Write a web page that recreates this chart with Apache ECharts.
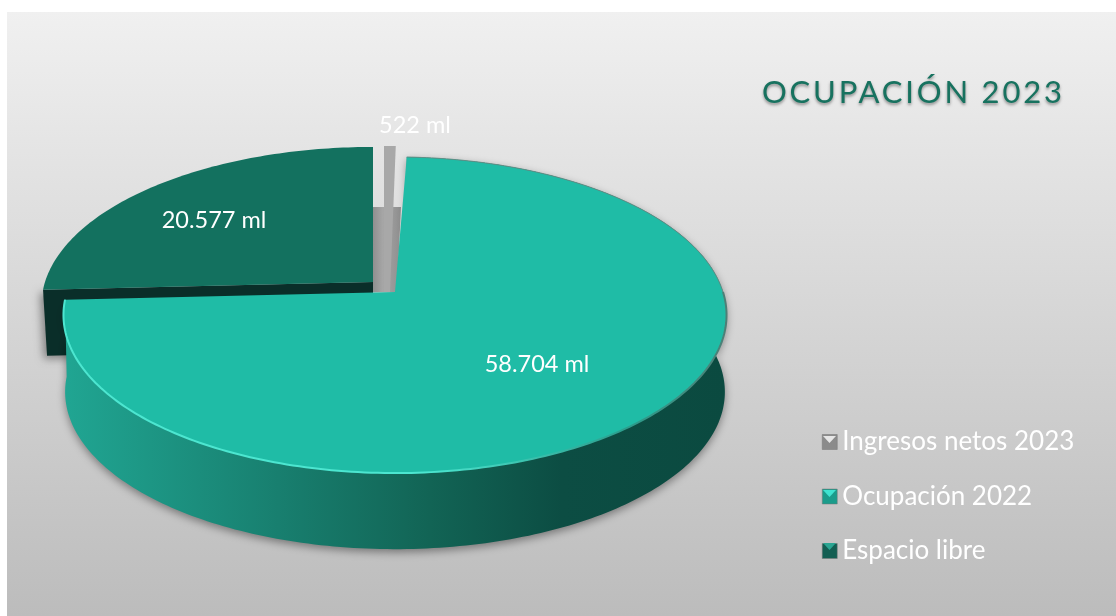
<!DOCTYPE html>
<html><head><meta charset="utf-8">
<style>html,body{margin:0;padding:0;background:#fff}#c{width:1116px;height:616px}</style>
<script src="https://cdn.jsdelivr.net/npm/echarts@6/dist/echarts.min.js"></script>
</head><body><div id="c"></div>
<script>
const categories = ['Ingresos netos 2023', 'Ocupación 2022', 'Espacio libre'];
const values = [522, 58704, 20577];
const unit = 'ml';
const titleText = 'OCUPACIÓN 2023';

// canvas letter spacing for the title only
const nativeFill = CanvasRenderingContext2D.prototype.fillText;
CanvasRenderingContext2D.prototype.fillText = function (t, x, y, m) {
  const on = t === titleText;
  if (on) this.letterSpacing = '2.8px';
  const r = m === undefined ? nativeFill.call(this, t, x, y) : nativeFill.call(this, t, x, y, m);
  if (on) this.letterSpacing = '0px';
  return r;
};

const total = values.reduce((a, b) => a + b, 0);
const K = 0.1456, RX = 328, RY = 154.7;
const slices = [
  {cx: 384, cy: 281, depth: 11, label: [31, -156], top: '#a8a8a8'},
  {cx: 395, cy: 292, depth: 77, label: [142, 72], top: '#1fbca6'},
  {cx: 373, cy: 282, depth: 66, label: [-159, -62], top: '#13715f'}
];
const legendIcons = [
  {base: '#8b8b8b', hi: '#e6e6e6'},
  {base: '#1b9c8b', hi: '#3fe3d0'},
  {base: '#125e52', hi: '#2aa592'}
];
const sideGradient = {type: 'linear', x: 67, y: 0, x2: 727, y2: 0, global: true, colorStops: [
  {offset: 0, color: '#20a592'}, {offset: 0.32, color: '#187f6f'},
  {offset: 0.55, color: '#126455'}, {offset: 0.75, color: '#0c4d43'}, {offset: 1, color: '#0b4a40'}
]};
const rimGradient = {type: 'linear', x: 63, y: 0, x2: 727, y2: 0, global: true, colorStops: [
  {offset: 0, color: '#4ce6d0'}, {offset: 0.55, color: '#4ce6d0'},
  {offset: 0.85, color: '#2b9d8c'}, {offset: 1, color: '#4d7f76'}
]};

function pt(s, deg, f, dy, sc) {
  const a = deg * Math.PI / 180, u = Math.sin(a) * f, v = -Math.cos(a) * f, d = 1 - K * v;
  return [s.cx + (sc || 1) * RX * u / d, s.cy + (dy || 0) + (sc || 1) * RY * v / d];
}
function arc(s, a0, a1, dy, sc) {
  const out = [], n = Math.max(2, Math.ceil(Math.abs(a1 - a0)));
  for (let i = 0; i <= n; i++) out.push(pt(s, a0 + (a1 - a0) * i / n, 1, dy, sc));
  return out;
}
function startAngle(i) {
  let acc = 0;
  for (let j = 0; j < i; j++) acc += values[j];
  return acc / total * 360;
}
function fmt(v) { return String(v).replace(/\B(?=(\d{3})+$)/g, '.') + ' ' + unit; }

function renderSlice(i) {
  return function (params, api) {
    const v = api.value(0), s = slices[i];
    const a0 = startAngle(i), a1 = a0 + v / total * 360;
    const ch = [];
    const apex = [s.cx, s.cy];
    const faceShape = [apex].concat(arc(s, a0, a1));
    if (i === 2) {
      const e = pt(s, a0, 1);
      ch.push({type: 'polygon', shape: {points: [e, apex, [s.cx, s.cy + s.depth], [e[0] + 4, e[1] + s.depth]]},
        style: {fill: '#0a2e29', shadowBlur: 8, shadowColor: 'rgba(0,0,0,.4)', shadowOffsetX: -3, shadowOffsetY: 3}});
    }
    if (i === 1) {
      const side = arc(s, a0, a1).concat(arc(s, a1, a0, s.depth, 0.995));
      ch.push({type: 'polygon', shape: {points: side},
        style: {fill: sideGradient, shadowBlur: 9, shadowColor: 'rgba(0,0,0,.4)', shadowOffsetY: 3}});
    }
    if (i === 0) {
      const a = pt(s, a0, 1), b = pt(s, a1, 1);
      ch.push({type: 'polygon', shape: {points: [[s.cx - 11, s.cy - 74], [s.cx + 17, s.cy - 74], [s.cx + 13, s.cy + 11], [s.cx - 11, s.cy + 11]]},
        style: {fill: {type: 'linear', x: 0, y: 0, x2: 1, y2: 0, colorStops: [{offset: 0, color: '#8f8f8f'}, {offset: 0.35, color: '#a6a6a6'}, {offset: 1, color: '#8e8e8e'}]}}});
      ch.push({type: 'polygon', shape: {points: [a, b, [s.cx + 6, s.cy + 11], [s.cx, s.cy + 11]]}, style: {fill: s.top}});
    } else {
      ch.push({type: 'polygon', shape: {points: faceShape}, style: {fill: s.top}});
    }
    if (i === 1) {
      ch.push({type: 'polyline', shape: {points: arc(s, a0, 90)}, style: {fill: 'none', stroke: '#5f8f86', lineWidth: 1}});
      ch.push({type: 'polyline', shape: {points: arc(s, 90, a1)}, style: {fill: 'none', stroke: rimGradient, lineWidth: 2}});
    }
    ch.push({type: 'text', z2: 10, style: {x: s.cx + s.label[0], y: s.cy + s.label[1], text: fmt(v), fill: '#fff',
      font: '23.5px Lato', align: 'center', verticalAlign: 'middle'}});
    return {type: 'group', children: ch};
  };
}

const drawOrder = [2, 0, 1];
const series = drawOrder.map((i, k) => ({
  type: 'custom', name: categories[i], coordinateSystem: 'none', z: 2 + k, silent: true, animation: false,
  renderItem: renderSlice(i), data: [[values[i]]], itemStyle: {color: legendIcons[i].base}
}));

const rows = [442, 496, 549];
const bevels = rows.map((y, i) => ({type: 'polygon', z: 100,
  shape: {points: [[823, y - 6], [836, y - 6], [829.5, y + 1]]}, style: {fill: legendIcons[i].hi}}));

const chart = echarts.init(document.getElementById('c'), null, {renderer: 'canvas'});
chart.setOption({
  backgroundColor: '#ffffff', animation: false,
  title: {text: titleText, left: 762, top: 77, padding: 0, textStyle: {color: '#17725f', fontFamily: 'Lato', fontWeight: 'normal', fontSize: 31,
    textShadowBlur: 3, textShadowColor: 'rgba(0,0,0,.4)', textShadowOffsetY: 2}},
  legend: {orient: 'vertical', left: 822, top: 429, itemWidth: 15, itemHeight: 15, itemGap: 28.5, padding: 0, icon: 'rect',
    data: categories.map((n, i) => ({name: n, itemStyle: {color: legendIcons[i].base, borderColor: '#777', borderWidth: 0.5}})),
    textStyle: {color: '#fff', fontFamily: 'Lato', fontSize: 26}, selectedMode: false},
  graphic: [{type: 'rect', z: -10, shape: {x: 7, y: 12, width: 1109, height: 604},
    style: {fill: {type: 'linear', x: 0, y: 0, x2: 0, y2: 1, colorStops: [{offset: 0, color: '#f0f0f0'}, {offset: 1, color: '#bcbcbc'}]}}}].concat(bevels),
  series
});
</script></body></html>
